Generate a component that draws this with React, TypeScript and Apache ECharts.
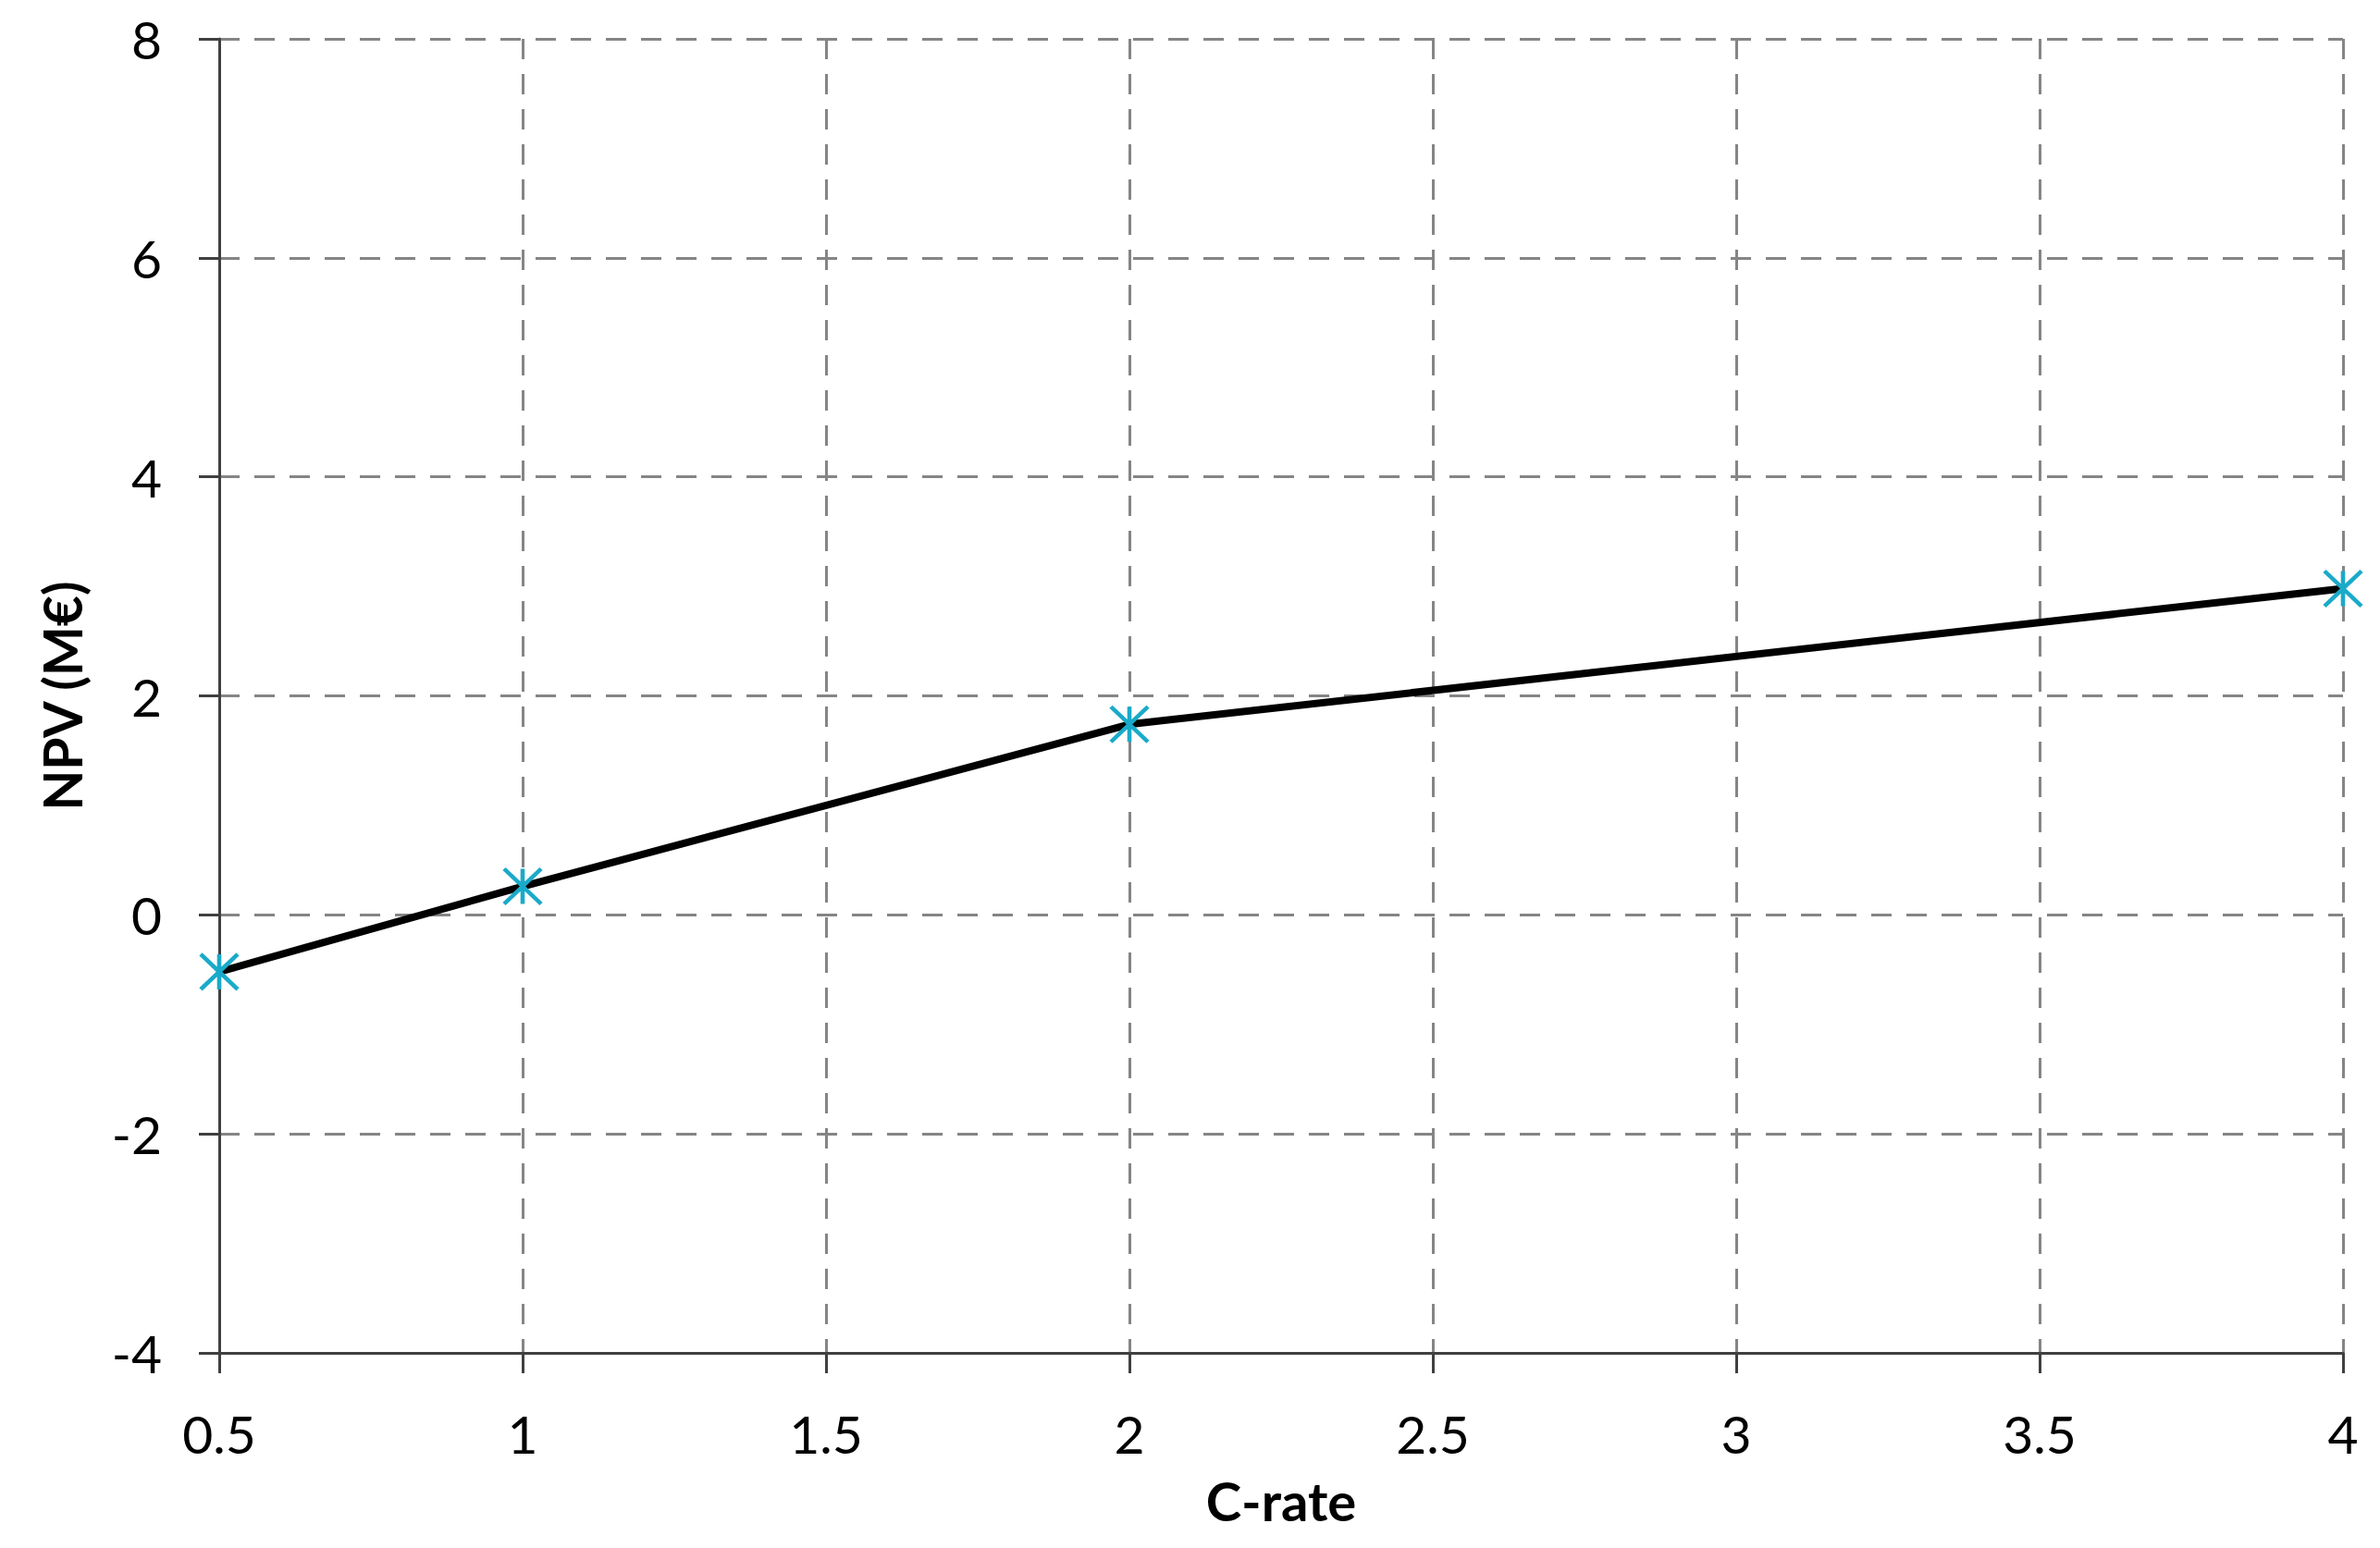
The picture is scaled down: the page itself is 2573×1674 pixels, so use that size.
import React, { useEffect, useRef } from "react";
import * as echarts from "echarts";

const cRates: number[] = [0.5, 1, 2, 4];
const npvValues: number[] = [-0.52, 0.26, 1.74, 2.98];
const xTitle = "C-rate";
const yTitle = "NPV (M€)";

const FONT = "Lato, 'Open Sans', sans-serif";

export default function App() {
  const ref = useRef<HTMLDivElement>(null);
  useEffect(() => {
    if (!ref.current) return;
    const chart = echarts.init(ref.current, undefined, { renderer: "svg" });
    const gridLine = { show: true, lineStyle: { color: "#858585", width: 3, type: [22, 16] as any } };
    chart.setOption({
      animation: false,
      backgroundColor: "#ffffff",
      grid: { left: 237, right: 40, top: 42, bottom: 211, containLabel: false },
      xAxis: {
        type: "value",
        min: 0.5,
        max: 4,
        interval: 0.5,
        name: xTitle,
        nameLocation: "middle",
        nameGap: 130,
        nameTextStyle: { fontFamily: FONT, fontSize: 58, fontWeight: "bold", color: "#000" },
        axisLine: { show: true, onZero: false, lineStyle: { color: "#404040", width: 3 } },
        axisTick: { show: true, length: 22, lineStyle: { color: "#404040", width: 3 } },
        axisLabel: { fontFamily: FONT, fontSize: 57, color: "#000", margin: 58 },
        splitLine: gridLine,
      },
      yAxis: {
        type: "value",
        min: -4,
        max: 8,
        interval: 2,
        name: yTitle,
        nameLocation: "middle",
        nameGap: 142,
        nameRotate: 90,
        nameTextStyle: { fontFamily: FONT, fontSize: 57, fontWeight: "bold", color: "#000" },
        axisLine: { show: true, onZero: false, lineStyle: { color: "#404040", width: 3 } },
        axisTick: { show: true, length: 22, lineStyle: { color: "#404040", width: 3 } },
        axisLabel: { fontFamily: FONT, fontSize: 57, color: "#000", margin: 62 },
        splitLine: gridLine,
      },
      series: [
        {
          type: "line",
          data: cRates.map((x, i) => [x, npvValues[i]]),
          lineStyle: { color: "#000", width: 8 },
          symbol: "path://M0,0 L10,10 M10,0 L0,10 M5,0 L5,10",
          symbolSize: [40, 38],
          itemStyle: { color: "none", borderColor: "#1aaac9", borderWidth: 4.5 },
          z: 5,
        },
      ],
    });
    return () => chart.dispose();
  }, []);
  return (
    <div
      ref={ref}
      style={{ position: "fixed", left: 0, top: 0, width: 2573, height: 1674, background: "#fff" }}
    />
  );
}
